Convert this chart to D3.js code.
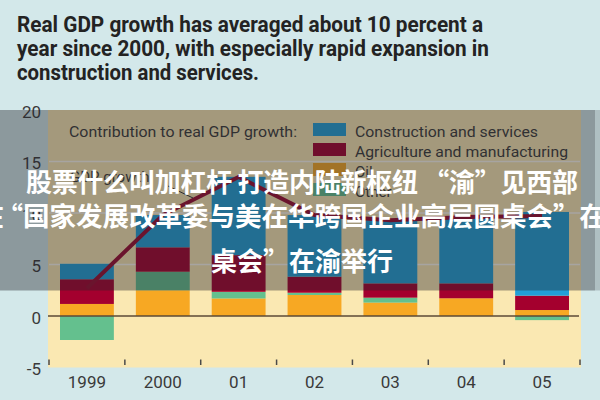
<!DOCTYPE html>
<html><head><meta charset="utf-8">
<script src="https://cdn.jsdelivr.net/npm/d3@7"></script>
<style>html,body{margin:0;padding:0;background:#d3e8ea;} svg{display:block}</style>
</head><body><svg id="c" width="600" height="400"></svg>
<script>
// ---- data ----
const years = ["1999", "2000", "01", "02", "03", "04", "05"];
const oil = [1.17, 2.5, 1.7, 2.04, 1.3, 1.72, 0.58];
const other = [-2.33, 1.8, 0.65, 0.22, 0.48, 0, -0.4];
const agriManu = [2.4, 2.37, 3.56, 1.56, 1.39, 1.45, 1.39];
const constrServ = [1.5, 3.13, 7.6, 5.98, 6.13, 6.43, 8.13];
const gdpGrowth = [2.7, 9.8, 13.5, 9.8, 9.3, 9.6, 9.7];
const yTickValues = [-5, 0, 5, 10, 15, 20];
const yTickLabels = ["-5", "0", "5", "10", "15", "20"];
const gridValues = [5, 10, 15];
const seriesKeys = ["oil", "other", "agri", "constr"];
const legendLabels = ["Construction and services", "Agriculture and manufacturing", "Oil", "Other"];
const legendKeys = ["constr", "agri", "oil", "other"];
const titleLines = ["Real GDP growth has averaged about 10 percent a",
  "year since 2000, with especially rapid expansion in",
  "construction and services."];
const overlayLines = ["股票什么叫加杠杆 打造内陆新枢纽 “渝”见西部",
  "“国家发展改革委与美在华跨国企业高层圆桌会”在渝",
  "桌会”在渝举行"];

// ---- styles ----
const colors = {constr: "#22a0d8", agri: "#a4002e", oil: "#f7a823", other: "#64c08e"};
const bg = "#d3e8ea", plotBg = "#fae8b2";
const latin = "Roboto, 'Liberation Sans', Arial, sans-serif";
const cjk = "'Noto Sans CJK SC', sans-serif";

const table = years.map((yr, i) => ({year: yr, oil: oil[i], other: other[i], agri: agriManu[i], constr: constrServ[i], gdp: gdpGrowth[i]}));

const svg = d3.select("#c");
svg.append("rect").attr("width", 600).attr("height", 400).attr("fill", bg);

// title
const titleWidths = [466, 472, 242];
titleLines.forEach((t, i) => {
  svg.append("text").attr("x", 17).attr("y", 31.5 + i * 24)
    .attr("font-family", latin).attr("font-weight", 700).attr("font-size", 22)
    .attr("fill", "#232323").attr("textLength", titleWidths[i]).attr("lengthAdjust", "spacingAndGlyphs")
    .text(t);
});

// scales
const x = d3.scaleBand().domain(years).range([49, 580]).padding(0);
const y = d3.scaleLinear().domain([-5, 20]).range([367.5, 110]);

// plot background
svg.append("rect").attr("x", 48).attr("y", y(20)).attr("width", 533).attr("height", y(-5) - y(20)).attr("fill", plotBg);

// gridlines
svg.append("g").selectAll("line").data(gridValues).join("line")
  .attr("x1", 49).attr("x2", 580).attr("y1", d => y(d)).attr("y2", d => y(d))
  .attr("stroke", "#fffaf0").attr("stroke-width", 1.5);

// bars
const stack = d3.stack().keys(seriesKeys).offset(d3.stackOffsetDiverging);
const stacked = stack(table);
const barW = x.bandwidth() * 0.71;
svg.append("g").selectAll("g").data(stacked).join("g")
  .attr("fill", s => colors[s.key])
  .selectAll("rect").data(s => s).join("rect")
  .attr("x", d => x(d.data.year) + (x.bandwidth() - barW) / 2)
  .attr("width", barW)
  .attr("y", d => y(Math.max(d[0], d[1])))
  .attr("height", d => Math.abs(y(d[0]) - y(d[1])));

// zero line
svg.append("line").attr("x1", 48).attr("x2", 579).attr("y1", y(0)).attr("y2", y(0))
  .attr("stroke", "#5b4a36").attr("stroke-width", 1.6);

// bottom tick marks at band boundaries
const bounds = years.map(d => x(d)).concat([x.range()[1]]);
svg.append("g").selectAll("line").data(bounds).join("line")
  .attr("x1", d => d).attr("x2", d => d).attr("y1", y(-5) - 8).attr("y2", y(-5) - 2.5)
  .attr("stroke", "#4a4a4a").attr("stroke-width", 1.5);

// GDP growth line
const line = d3.line().x(d => x(d.year) + x.bandwidth() / 2).y(d => y(d.gdp));
svg.append("path").datum(table).attr("d", line).attr("fill", "none")
  .attr("stroke", "#9a0a30").attr("stroke-width", 4);

// y axis labels
const yAxis = d3.axisLeft(y).tickValues(yTickValues).tickSize(0).tickPadding(0)
  .tickFormat((d, i) => yTickLabels[i]);
const gy = svg.append("g").attr("transform", "translate(41,0)").call(yAxis);
gy.select(".domain").remove();
gy.selectAll("text").attr("font-family", latin).attr("font-size", 17).attr("fill", "#3a3a3a").attr("dy", "0.44em");

// x axis labels
const xAxis = d3.axisBottom(x).tickSize(0).tickPadding(0);
const gx = svg.append("g").attr("transform", "translate(0,376)").call(xAxis);
gx.select(".domain").remove();
gx.selectAll("text").attr("font-family", latin).attr("font-size", 17).attr("fill", "#3a3a3a");

// legend
svg.append("text").attr("x", 69).attr("y", 137).attr("font-family", latin).attr("font-size", 15)
  .attr("fill", "#3a3a3a").attr("textLength", 228).attr("lengthAdjust", "spacingAndGlyphs")
  .text("Contribution to real GDP growth:");
const legendTextW = [183, 213, null, null];
legendKeys.forEach((k, i) => {
  const cy = 131.5 + i * 20;
  svg.append("rect").attr("x", 313).attr("y", cy - 8.5).attr("width", 33).attr("height", 13).attr("fill", colors[k]);
  const t = svg.append("text").attr("x", 355).attr("y", cy + 5.5).attr("font-family", latin).attr("font-size", 15)
    .attr("fill", "#3a3a3a").text(legendLabels[i]);
  if (legendTextW[i]) t.attr("textLength", legendTextW[i]).attr("lengthAdjust", "spacingAndGlyphs");
});

// GDP growth label and leader
svg.append("text").attr("x", 70).attr("y", 182).attr("font-family", latin).attr("font-size", 15)
  .attr("fill", "#3a3a3a").text("GDP growth");
svg.append("line").attr("x1", 168).attr("y1", 186).attr("x2", 193).attr("y2", 198)
  .attr("stroke", "#333").attr("stroke-width", 1);

// dark watermark band
svg.append("rect").attr("x", 0).attr("y", 110).attr("width", 595).attr("height", 180.5)
  .attr("fill", "rgb(36,36,42)").attr("fill-opacity", 0.4);
svg.append("rect").attr("x", 595).attr("y", 110).attr("width", 5).attr("height", 180.5)
  .attr("fill", "rgb(36,36,42)").attr("fill-opacity", 0.2);

// overlay text
const ov = svg.append("g").attr("font-family", cjk).attr("font-weight", 700).attr("fill", "#fff").attr("font-size", 26);
ov.append("text").attr("x", 26).attr("y", 192).attr("textLength", 552).attr("lengthAdjust", "spacing").text(overlayLines[0]);
ov.append("text").attr("x", -3.4).attr("y", 226).attr("font-size", 26.5).text(overlayLines[1]);
ov.append("text").attr("x", 4).attr("y", 226).attr("text-anchor", "end").text("在");
ov.append("text").attr("x", 211).attr("y", 271).text(overlayLines[2]);
</script></body></html>
